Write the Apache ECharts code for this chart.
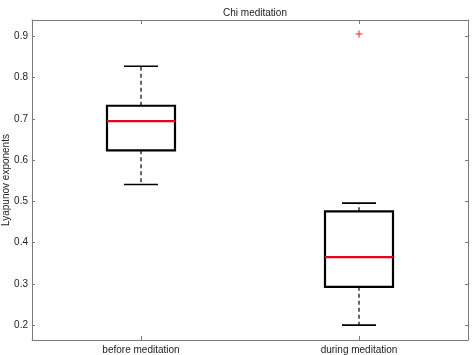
<!DOCTYPE html>
<html>
<head>
<meta charset="utf-8">
<script src="https://cdn.jsdelivr.net/npm/echarts@6/dist/echarts.min.js"></script>
<style>
html, body { margin: 0; padding: 0; background: #fff; }
#chart { width: 472px; height: 355px; }
</style>
</head>
<body>
<div id="chart"></div>
<script>
// box statistics
const categories = ['before meditation', 'during meditation'];
const whiskerLow = [0.541, 0.200];
const q1 = [0.624, 0.293];
const medians = [0.695, 0.365];
const q3 = [0.732, 0.476];
const whiskerHigh = [0.828, 0.496];
const outliers = [[1, 0.906]];
const yTicks = [0.2, 0.3, 0.4, 0.5, 0.6, 0.7, 0.8, 0.9];

const axisGrey = '#7a7a7a';
const textColor = '#222';
const fontFamily = 'Liberation Sans, Arial, sans-serif';

const boxData = categories.map((c, i) => [i, whiskerLow[i], q1[i], medians[i], q3[i], whiskerHigh[i]]);

function renderBox(params, api) {
    const i = api.value(0);
    const pLo = api.coord([i, api.value(1)]);
    const pQ1 = api.coord([i, api.value(2)]);
    const pMed = api.coord([i, api.value(3)]);
    const pQ3 = api.coord([i, api.value(4)]);
    const pHi = api.coord([i, api.value(5)]);
    const cx = pMed[0];
    const halfBox = 34, halfCap = 17;
    const dashed = { stroke: '#000', lineWidth: 1.2, lineDash: [4, 3] };
    const solid = { stroke: '#000', lineWidth: 1.6 };
    return {
        type: 'group',
        children: [
            { type: 'line', shape: { x1: cx, y1: pQ3[1], x2: cx, y2: pHi[1] }, style: dashed },
            { type: 'line', shape: { x1: cx, y1: pQ1[1], x2: cx, y2: pLo[1] }, style: dashed },
            { type: 'line', shape: { x1: cx - halfCap, y1: pHi[1], x2: cx + halfCap, y2: pHi[1] }, style: solid },
            { type: 'line', shape: { x1: cx - halfCap, y1: pLo[1], x2: cx + halfCap, y2: pLo[1] }, style: solid },
            { type: 'rect', shape: { x: cx - halfBox, y: pQ3[1], width: halfBox * 2, height: pQ1[1] - pQ3[1] },
              style: { fill: 'none', stroke: '#000', lineWidth: 2.2 } },
            { type: 'line', shape: { x1: cx - halfBox, y1: pMed[1], x2: cx + halfBox, y2: pMed[1] },
              style: { stroke: '#e8001c', lineWidth: 2.2 } }
        ]
    };
}

function renderOutlier(params, api) {
    const p = api.coord([api.value(0), api.value(1)]);
    const s = 3.5;
    const st = { stroke: '#ff2020', lineWidth: 1 };
    return {
        type: 'group',
        children: [
            { type: 'line', shape: { x1: p[0] - s, y1: p[1], x2: p[0] + s, y2: p[1] }, style: st },
            { type: 'line', shape: { x1: p[0], y1: p[1] - s, x2: p[0], y2: p[1] + s }, style: st }
        ]
    };
}

const chart = echarts.init(document.getElementById('chart'));
const yBase = {
    type: 'value',
    min: 0.164,
    max: 0.94,
    splitLine: { show: false },
    axisLine: { show: true, lineStyle: { color: axisGrey, width: 1 } },
    axisTick: { show: true, inside: true, length: 3, customValues: yTicks, lineStyle: { color: axisGrey } }
};
chart.setOption({
    animation: false,
    title: {
        text: 'Chi meditation',
        left: 250, top: 3, textAlign: 'center',
        textStyle: { fontSize: 10, fontWeight: 'normal', color: textColor, fontFamily: fontFamily }
    },
    grid: { left: 32, right: 4, top: 20, bottom: 15, outerBoundsMode: 'none', containLabel: false },
    xAxis: [{
        type: 'category',
        data: categories,
        position: 'bottom',
        axisLine: { show: true, lineStyle: { color: axisGrey } },
        axisTick: { show: true, inside: true, length: 4, alignWithLabel: true, lineStyle: { color: axisGrey } },
        axisLabel: { color: textColor, fontSize: 10, fontFamily: fontFamily, margin: 5 }
    }, {
        type: 'category',
        data: categories,
        position: 'top',
        axisLine: { show: true, lineStyle: { color: axisGrey } },
        axisTick: { show: true, inside: true, length: 4, alignWithLabel: true, lineStyle: { color: axisGrey } },
        axisLabel: { show: false }
    }],
    yAxis: [Object.assign({}, yBase, {
        position: 'left',
        name: 'Lyapunov exponents',
        nameLocation: 'middle',
        nameGap: 21,
        nameMoveOverlap: false,
        nameTextStyle: { color: textColor, fontSize: 10, fontFamily: fontFamily },
        axisLabel: { customValues: yTicks, color: textColor, fontSize: 10, fontFamily: fontFamily, margin: 4,
            formatter: v => v.toFixed(1) }
    }), Object.assign({}, yBase, {
        position: 'right',
        axisLabel: { show: false }
    })],
    series: [{
        type: 'custom',
        renderItem: renderBox,
        data: boxData,
        encode: { x: 0, y: [1, 2, 3, 4, 5] },
        z: 3
    }, {
        type: 'custom',
        renderItem: renderOutlier,
        data: outliers,
        encode: { x: 0, y: 1 },
        z: 4
    }]
});
</script>
</body>
</html>
